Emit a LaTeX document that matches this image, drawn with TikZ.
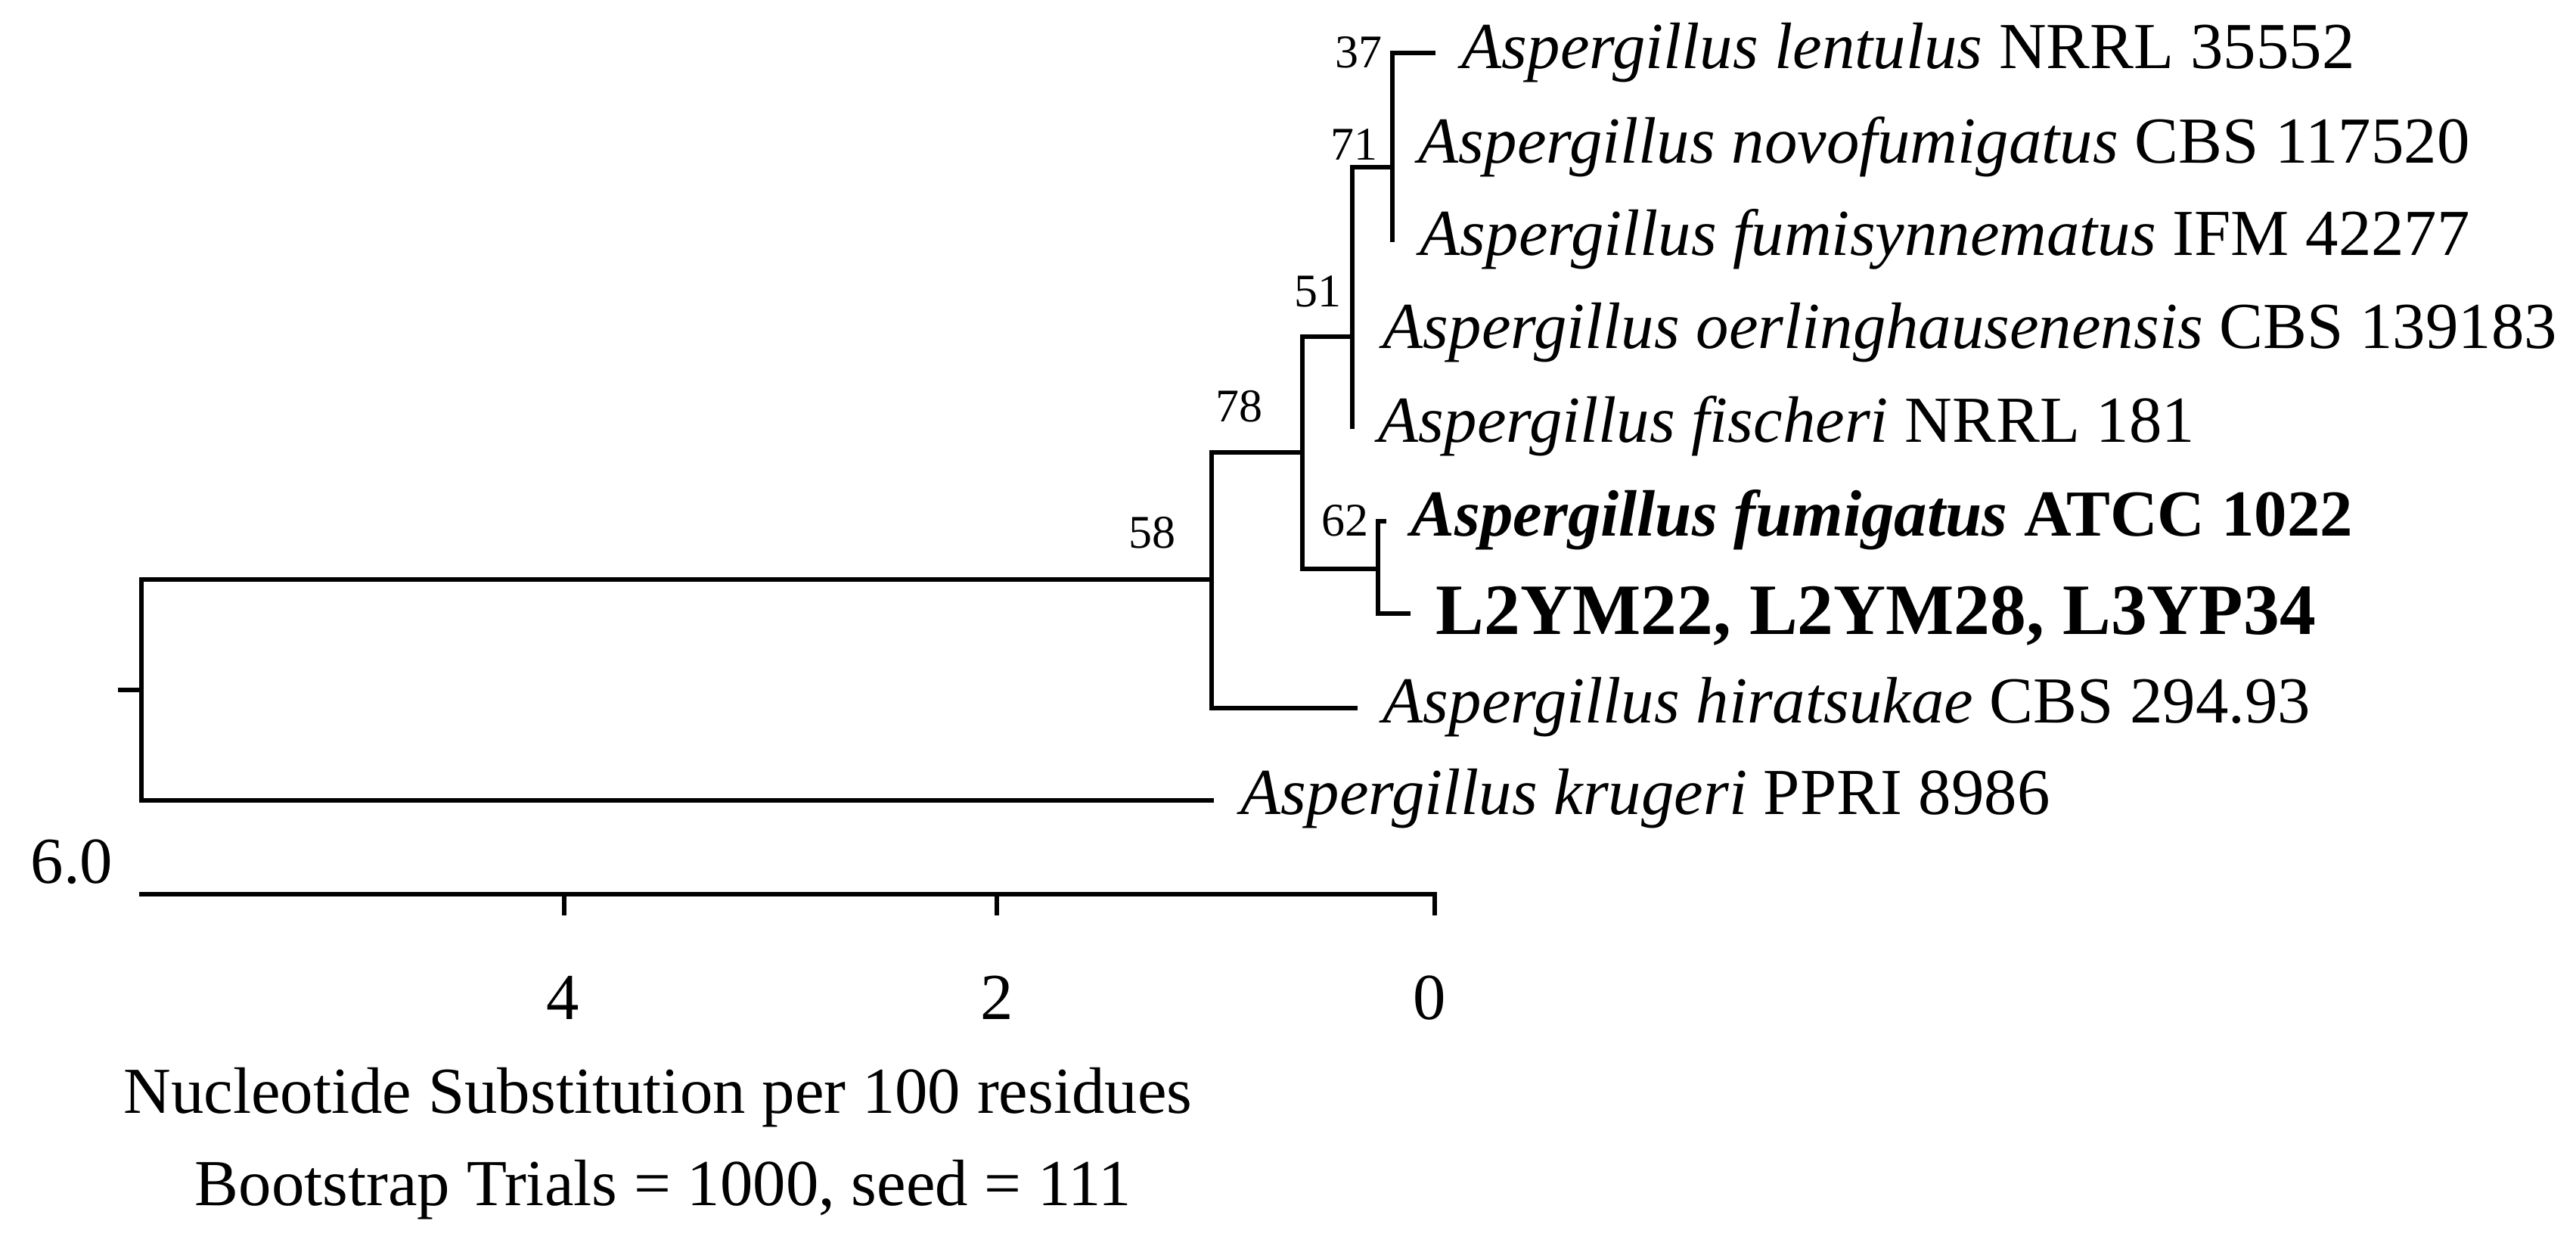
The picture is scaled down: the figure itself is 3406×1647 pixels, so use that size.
\documentclass[tikz,border=0pt]{standalone}
\usepackage{fontspec}
\setmainfont{Liberation Serif}
\begin{document}
\begin{tikzpicture}[x=0.25pt,y=-0.25pt,
  hline/.style={line width=1.5pt,line cap=rect},
  vline/.style={line width=1.5pt,line cap=rect},
  tick/.style={line width=1.3pt},
  leaf/.style={anchor=base west,inner sep=0pt,font=\fontsize{21.7}{26}\selectfont},
  bigleaf/.style={anchor=base west,inner sep=0pt,font=\fontsize{23.9}{28}\selectfont\bfseries},
  boot/.style={anchor=base east,inner sep=0pt,font=\fontsize{15.5}{18}\selectfont},
  axlab/.style={anchor=base,inner sep=0pt,font=\fontsize{21.7}{26}\selectfont}]
\useasboundingbox (0,0) rectangle (3406,1647);
% internal nodes
\coordinate (root) at (187,912);
\coordinate (stub) at (159,912);
\coordinate (n58) at (1602,766);
\coordinate (n78) at (1722,598);
\coordinate (n51) at (1788,445);
\coordinate (n71) at (1841,221);
\coordinate (n62) at (1822,752);
% leaf tips
\coordinate (tkru) at (1602,1058);
\coordinate (thir) at (1792,936);
\coordinate (tlen) at (1895,70);
\coordinate (tnov) at (1841,193);
\coordinate (tfum) at (1841,317);
\coordinate (toer) at (1788,440);
\coordinate (tfis) at (1788,564);
\coordinate (tatc) at (1830,689);
\coordinate (tl2) at (1862,811);
% horizontal branches
\draw[hline] (stub) -- (root);
\draw[hline] (root |- n58) -- (n58);
\draw[hline] (root |- tkru) -- (tkru);
\draw[hline] (n58 |- n78) -- (n78);
\draw[hline] (n58 |- thir) -- (thir);
\draw[hline] (n78 |- n51) -- (n51);
\draw[hline] (n78 |- n62) -- (n62);
\draw[hline] (n51 |- n71) -- (n71);
\draw[hline] (n71 |- tlen) -- (tlen);
\draw[hline] (n62 |- tatc) -- (tatc);
\draw[hline] (n62 |- tl2) -- (tl2);
% vertical lines
\draw[vline] (root |- n58) -- (root |- tkru);
\draw[vline] (n58 |- n78) -- (n58 |- thir);
\draw[vline] (n78 |- n51) -- (n78 |- n62);
\draw[vline] (n51 |- n71) -- (n51 |- tfis);
\draw[vline] (n71 |- tlen) -- (n71 |- tfum);
\draw[vline] (n62 |- tatc) -- (n62 |- tl2);
% leaf labels
\node[leaf] (llen) at (1932,91) {\textit{Aspergillus lentulus} NRRL 35552};
\node[leaf] (lnov) at (1875,216) {\textit{Aspergillus novofumigatus} CBS 117520};
\node[leaf] (lfum) at (1877,338) {\textit{Aspergillus fumisynnematus} IFM 42277};
\node[leaf] (loer) at (1828,461) {\textit{Aspergillus oerlinghausenensis} CBS 139183};
\node[leaf] (lfis) at (1822,585) {\textit{Aspergillus fischeri} NRRL 181};
\node[leaf,font=\fontsize{21.7}{26}\selectfont\bfseries] (latc) at (1865,708) {\textit{Aspergillus fumigatus} ATCC 1022};
\node[bigleaf] (ll2) at (1898,838) {L2YM22, L2YM28, L3YP34};
\node[leaf] (lhir) at (1828,955) {\textit{Aspergillus hiratsukae} CBS 294.93};
\node[leaf] (lkru) at (1640,1076) {\textit{Aspergillus krugeri} PPRI 8986};
% bootstrap values
\node[boot] (b37) at (1828,90) {37};
\node[boot] (b71) at (1822,212) {71};
\node[boot] (b51) at (1774,406) {51};
\node[boot] (b78) at (1670,557) {78};
\node[boot] (b62) at (1810,708) {62};
\node[boot] (b58) at (1555,725) {58};
% scale bar
\coordinate (s6) at (187,1182);
\coordinate (s4) at (746,1182);
\coordinate (s2) at (1318,1182);
\coordinate (s0) at (1897,1182);
\draw[hline] (s6) -- (s0);
\draw[tick] (s4) -- ++(0,28);
\draw[tick] (s2) -- ++(0,28);
\draw[tick] (s0) -- ++(0,28);
\node[axlab] (t6) at (95,1167) {6.0};
\node[axlab] (t4) at (744,1347) {4};
\node[axlab] (t2) at (1318,1347) {2};
\node[axlab] (t0) at (1890,1347) {0};
\node[axlab] (cap1) at (870,1471) {Nucleotide Substitution per 100 residues};
\node[axlab] (cap2) at (877,1593) {Bootstrap Trials = 1000, seed = 111};
\end{tikzpicture}
\end{document}
